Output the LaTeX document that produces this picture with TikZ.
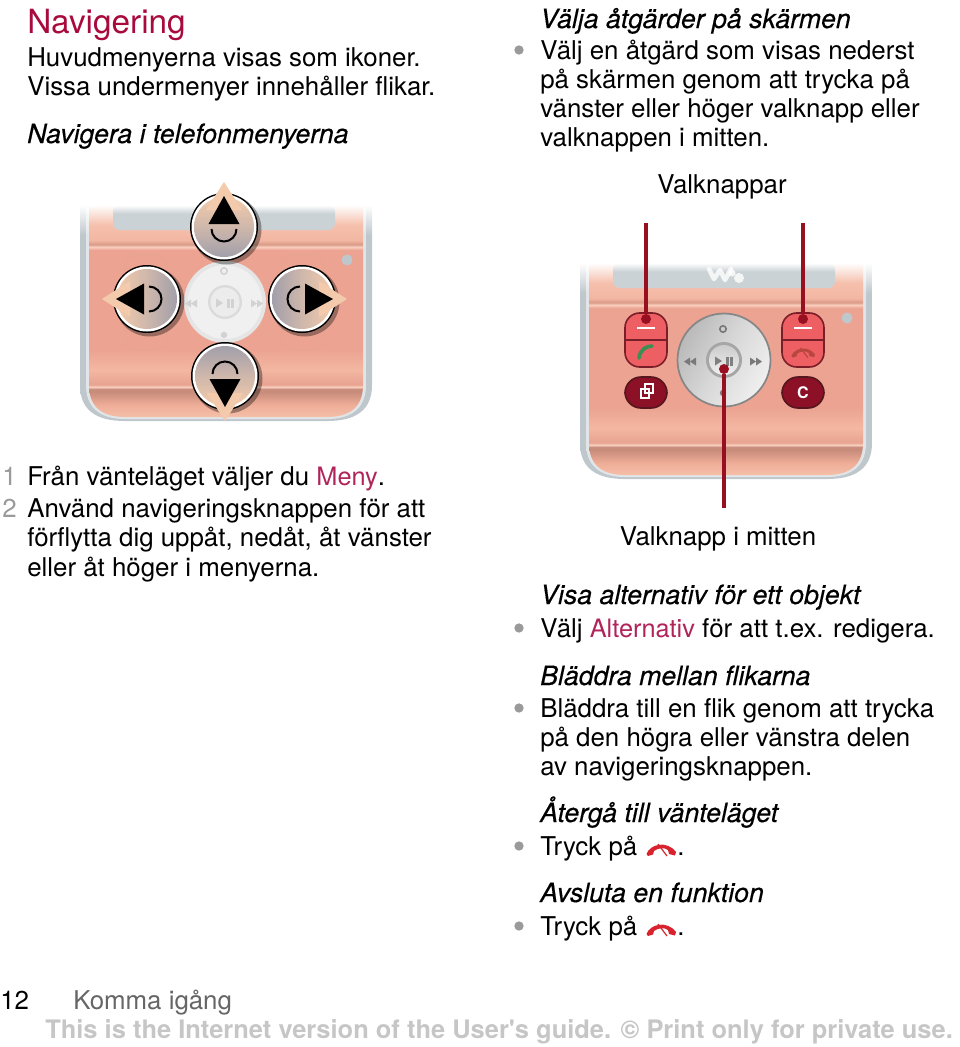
\documentclass[tikz,border=0pt]{standalone}
\usepackage{fontspec}
\setmainfont{TeX Gyre Heros}
\newfontfamily\ttlfam[FakeBold=0.4]{TeX Gyre Heros}
\definecolor{titlered}{HTML}{A80A3E}
\definecolor{linkred}{HTML}{B0245A}
\definecolor{calloutred}{HTML}{980F22}
\definecolor{bulletgrey}{HTML}{9A9A9A}
\definecolor{footgrey}{HTML}{C6C6C6}
\definecolor{rimgrey}{HTML}{BEC7CC}
\definecolor{rimlight}{HTML}{E2E5E7}
\definecolor{displaygrey}{HTML}{CBD2D6}
\definecolor{peach}{HTML}{F3CBAC}
\definecolor{slate}{HTML}{A29FAA}
\definecolor{keyred}{HTML}{EE5F63}
\definecolor{keydark}{HTML}{7A1F2A}
\definecolor{winered}{HTML}{8C1026}
\definecolor{hangred}{HTML}{D8232F}
\definecolor{hangdull}{HTML}{B8473F}
\definecolor{handgreen}{HTML}{3C8F52}
\definecolor{bandA}{HTML}{F5BFA8}
\definecolor{bandB}{HTML}{EFAE98}
\definecolor{bandC}{HTML}{C88C7B}
\definecolor{bandD}{HTML}{FBD3C2}
\definecolor{bandE}{HTML}{E8A391}
\definecolor{bandF}{HTML}{F3B7A2}
\definecolor{bandG}{HTML}{ECA392}
\definecolor{bandH}{HTML}{FAD0C0}
\definecolor{bandI}{HTML}{D99B88}
\definecolor{bandJ}{HTML}{F5C0AD}
\pgfdeclareverticalshading{rimfade}{100bp}{color(0bp)=(rimgrey);color(68bp)=(rimgrey);color(75bp)=(white);color(100bp)=(white)}
\pgfdeclareverticalshading{rimlightfade}{100bp}{color(0bp)=(rimlight);color(68bp)=(rimlight);color(75bp)=(white);color(100bp)=(white)}
\pgfdeclareverticalshading{displayfade}{100bp}{color(0bp)=(displaygrey);color(58bp)=(displaygrey);color(75bp)=(white);color(100bp)=(white)}
\pgfdeclareverticalshading{bodyfade}{100bp}{color(0bp)=(bandA);color(25bp)=(bandA);color(27.8bp)=(bandB);color(30.9bp)=(bandC);color(31.6bp)=(bandC);color(32.1bp)=(bandD);color(32.6bp)=(bandE);color(36.1bp)=(bandF);color(40.8bp)=(bandG);color(64.4bp)=(bandG);color(65.1bp)=(bandH);color(65.7bp)=(bandI);color(66.7bp)=(bandF);color(70.3bp)=(bandJ);color(75bp)=(white);color(100bp)=(white)}
\newcommand{\phonebody}{
\shade [shading=rimfade] (80,205) -- (80,385) .. controls (80,410) and (96,421) .. (125,421) -- (327,421) .. controls (356,421) and (372,410) .. (372,385) -- (372,205) -- cycle;
\shade [shading=rimlightfade] (86,205) -- (86,385) .. controls (86,406) and (98,419) .. (125,419) -- (327,419) .. controls (354,419) and (366,406) .. (366,385) -- (366,205) -- cycle;
\shade [shading=bodyfade] (89,205) -- (89,385) .. controls (89,405) and (100,417) .. (125,417) -- (327,417) .. controls (352,417) and (363,405) .. (363,385) -- (363,205) -- cycle;
\shade [shading=displayfade,rounded corners=5pt] (113,205) rectangle (335,230);
\fill [fill=rimgrey] (347,260) circle (5.5);
}
\newcommand{\padicons}[1]{
\fill [#1] (-40,1.5) -- (-34,-2.5) -- (-34,5.5) -- cycle;
\fill [#1] (-34,1.5) -- (-28,-2.5) -- (-28,5.5) -- cycle;
\fill [#1] (26,-2.5) -- (32,1.5) -- (26,5.5) -- cycle;
\fill [#1] (32,-2.5) -- (38,1.5) -- (32,5.5) -- cycle;
\draw [#1,line width=1.2pt] (-1,-31) circle (3.2);
\fill [#1] (-1,33) circle (3.2);
}
\newcommand{\playicon}[1]{
\fill [#1] (-9,-3.5) -- (-2,1) -- (-9,5.5) -- cycle;
\fill [#1] (2,-3.5) rectangle (4.5,5.5);
\fill [#1] (6,-3.5) rectangle (8.5,5.5);
}
\newcommand{\dirbutton}[3]{
\fill [black,opacity=.35] (#1+2.5,#2+2.5) circle (35);
\begin{scope}[shift={(#1,#2)},rotate=#3]
\fill [black] (0,0) circle (34);
\fill [white] (0,0) circle (32.5);
\shade [top color=peach,bottom color=slate,middle color=peach!55!slate,shading angle=#3] (0,0) circle (30);
\fill [peach] (0,-45) -- (18,-17) -- (-18,-17) -- cycle;
\fill [black] (0,-31) -- (15.5,-3) -- (-15.5,-3) -- cycle;
\draw [black,line width=1.5pt] (-12.5,2) arc [start angle=180,end angle=0,radius=12.5];
\end{scope}
}
\newcommand{\hangup}[4]{
\begin{scope}[shift={(#1,#2)},scale=#3]
\fill [#4] (-14.5,5) .. controls (-11,-5) and (6,-9) .. (15,3) -- (14,6.5) -- (8,5) -- (7,1) .. controls (3,-2) and (-3,-1) .. (-7,2) -- (-8,5.5) -- (-13,7) -- cycle;
\draw [#4,line width=.9pt] (-3,-5) -- (6,7);
\end{scope}
}
\begin{document}
\begin{tikzpicture}[x=0.75pt,y=-0.75pt,>=stealth,
txt/.style={anchor=base west,inner sep=0pt,font=\fontsize{19.4}{24}\selectfont},
ttl/.style={txt,font=\ttlfam\fontsize{20}{24}\selectfont\itshape},
mid/.style={anchor=base,inner sep=0pt,font=\fontsize{19.4}{24}\selectfont},
num/.style={txt,text=bulletgrey},
bull/.style={circle,fill=bulletgrey,inner sep=0pt,minimum size=7pt},
callout/.style={calloutred,line width=2.8pt},
dot/.style={circle,fill=calloutred,inner sep=0pt,minimum size=7.5pt}]
\useasboundingbox (0,0) rectangle (960,1047);

\phonebody
\draw [bandE,line width=1pt,rounded corners=9pt] (125,255) rectangle (167,309);
\draw [bandE,line width=1pt,rounded corners=9pt] (125,319) rectangle (167,350);
\draw [bandE,line width=1pt,rounded corners=9pt] (282,255) rectangle (324,309);
\draw [bandE,line width=1pt,rounded corners=9pt] (282,319) rectangle (324,350);
\fill [gray!20] (225,302) circle (41);
\fill [gray!12] (225,302) circle (37);
\begin{scope}[shift={(225,302)}]
\padicons{gray!35}
\fill [gray!28] (0,0) circle (17);
\fill [gray!15] (0,0) circle (14.5);
\playicon{gray!35}
\end{scope}
\dirbutton{224}{227}{0}
\dirbutton{147}{299}{90}
\dirbutton{302}{299}{-90}
\dirbutton{225}{376}{180}

\begin{scope}[shift={(500,58)}]
\phonebody
\draw [white,opacity=.8,line width=3.4pt,line cap=round,line join=round] (209,211) -- (214,221) -- (220,212) -- (225,222) -- (231,211);
\fill [white,opacity=.8] (239,220) circle (5);
\fill [white,opacity=.8] (232,215) circle (3.5);
\filldraw [fill=keyred,draw=keydark,line width=1.2pt,rounded corners=11pt] (125,255) rectangle (167,309);
\filldraw [fill=keyred,draw=keydark,line width=1.2pt,rounded corners=11pt] (282,255) rectangle (324,309);
\draw [keydark,line width=1pt] (125,282) -- (167,282);
\draw [keydark,line width=1pt] (282,282) -- (324,282);
\draw [white,line width=1.2pt] (137,270) -- (155,270);
\draw [white,line width=1.2pt] (294,270) -- (312,270);
\draw [handgreen,line width=2.8pt,line cap=round] (139,300) .. controls (140,292) and (146,288) .. (152,288);
\hangup{303}{294}{.8}{hangdull}
\filldraw [fill=winered,draw=keydark!70!black,line width=1.2pt,rounded corners=12pt] (125,319) rectangle (167,350);
\filldraw [fill=winered,draw=keydark!70!black,line width=1.2pt,rounded corners=12pt] (282,319) rectangle (324,350);
\draw [white,line width=.9pt] (141,331) rectangle (149,340);
\draw [white,line width=.9pt] (145,326) rectangle (153,335);
\node (ckey) at (303,334.5) [inner sep=0pt,text=white,font=\fontsize{12}{12}\selectfont\bfseries] {C};
\shade [left color=gray!55,right color=gray!12,middle color=gray!30,shading angle=60] (224,302) circle (47);
\draw [gray!95!white,line width=1.3pt] (224,302) circle (46.5);
\begin{scope}[shift={(224,302)}]
\padicons{gray!95!black}
\fill [gray!70] (0,0) circle (18);
\shade [top color=gray!40,bottom color=gray!12] (0,0) circle (15);
\playicon{gray}
\end{scope}
\end{scope}

\coordinate (lefttop) at (646,223);
\coordinate (righttop) at (803,223);
\coordinate (midend) at (724,508);
\node (leftdot) at (646,319) [dot] {};
\node (rightdot) at (803,319) [dot] {};
\node (middot) at (724,369) [dot] {};
\draw [callout] (lefttop) -- (leftdot);
\draw [callout] (righttop) -- (rightdot);
\draw [callout] (midend) -- (middot);

\node (head) at (27,33) [txt,text=titlered,font=\fontsize{25}{28}\selectfont] {Navigering};
\node (l1) at (27,66) [txt] {Huvudmenyerna visas som ikoner.};
\node (l2) at (27,95) [txt] {Vissa undermenyer innehåller flikar.};
\node (l3) at (27,143) [ttl] {Navigera i telefonmenyerna};
\node (r1) at (540,28) [ttl] {Välja åtgärder på skärmen};
\node (b1) at (519,50) [bull] {};
\node (r2) at (540,59) [txt] {Välj en åtgärd som visas nederst};
\node (r3) at (540,88) [txt] {på skärmen genom att trycka på};
\node (r4) at (540,117) [txt] {vänster eller höger valknapp eller};
\node (r5) at (540,146) [txt] {valknappen i mitten.};
\node (soft) at (722,193) [mid] {Valknappar};
\node (n1) at (2,485) [num] {1};
\node (s1) at (27,485) [txt] {Från vänteläget väljer du \textcolor{linkred}{\fontsize{19}{24}\selectfont Meny}.};
\node (n2) at (2,517) [num] {2};
\node (s2) at (27,517) [txt] {Använd navigeringsknappen för att};
\node (s3) at (27,546) [txt] {förflytta dig uppåt, nedåt, åt vänster};
\node (s4) at (27,576) [txt] {eller åt höger i menyerna.};
\node (center) at (718,545) [mid] {Valknapp i mitten};
\node (r6) at (540,604) [ttl] {Visa alternativ för ett objekt};
\node (b2) at (519,628) [bull] {};
\node (r7) at (540,637) [txt] {Välj \textcolor{linkred}{\fontsize{19}{24}\selectfont Alternativ} för att t.ex. redigera.};
\node (r8) at (540,685) [ttl] {Bläddra mellan flikarna};
\node (b3) at (519,708) [bull] {};
\node (r9) at (540,717) [txt] {Bläddra till en flik genom att trycka};
\node (r10) at (540,746) [txt] {på den högra eller vänstra delen};
\node (r11) at (540,775) [txt] {av navigeringsknappen.};
\node (r12) at (540,822) [ttl] {Återgå till vänteläget};
\node (b4) at (519,846) [bull] {};
\node (r13) at (540,855) [txt] {Tryck på};
\node (r14) at (677,855) [txt] {.};
\hangup{661}{849}{1}{hangred}
\node (r15) at (540,902) [ttl] {Avsluta en funktion};
\node (b5) at (519,926) [bull] {};
\node (r16) at (540,935) [txt] {Tryck på};
\node (r17) at (677,935) [txt] {.};
\hangup{661}{929}{1}{hangred}
\node (page) at (0,1009) [txt] {12};
\node (chap) at (73,1009) [txt,text=black!60] {Komma igång};
\node (foot) at (45,1038) [txt,text=footgrey,font=\fontsize{19.1}{22}\selectfont\bfseries] {This is the Internet version of the User\textquotesingle s guide. © Print only for private use.};
\end{tikzpicture}
\end{document}
